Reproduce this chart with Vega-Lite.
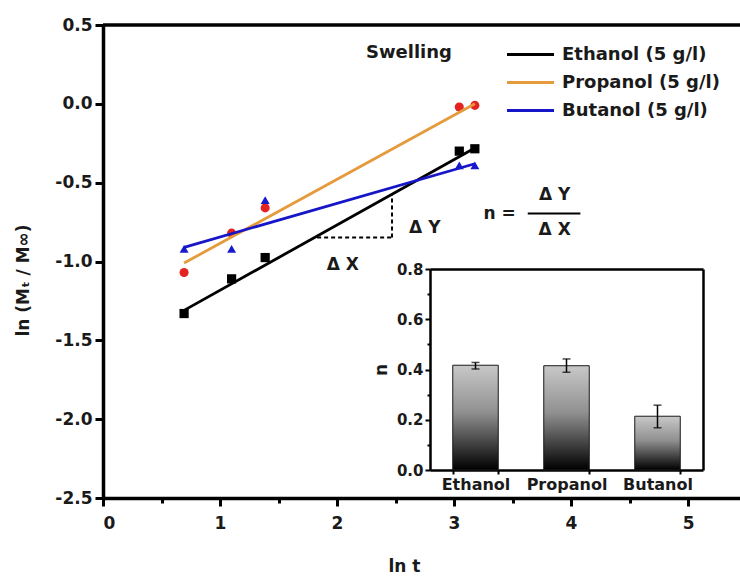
{
  "$schema": "https://vega.github.io/schema/vega-lite/v6.json",
  "width": 637,
  "height": 473,
  "autosize": "none",
  "padding": {"left": 103, "top": 25, "right": 0, "bottom": 78},
  "background": "white",
  "config": {
    "view": {"stroke": null},
    "font": "DejaVu Sans",
    "text": {"font": "DejaVu Sans"}
  },
  "datasets": {
    "points": [
      {"series": "Ethanol", "lnt": 0.693, "value": -1.33},
      {"series": "Ethanol", "lnt": 1.099, "value": -1.11},
      {"series": "Ethanol", "lnt": 1.386, "value": -0.975},
      {"series": "Ethanol", "lnt": 3.045, "value": -0.30},
      {"series": "Ethanol", "lnt": 3.178, "value": -0.285},
      {"series": "Propanol", "lnt": 0.693, "value": -1.07},
      {"series": "Propanol", "lnt": 1.099, "value": -0.82},
      {"series": "Propanol", "lnt": 1.386, "value": -0.66},
      {"series": "Propanol", "lnt": 3.045, "value": -0.02},
      {"series": "Propanol", "lnt": 3.178, "value": -0.01},
      {"series": "Butanol", "lnt": 0.693, "value": -0.92},
      {"series": "Butanol", "lnt": 1.099, "value": -0.92},
      {"series": "Butanol", "lnt": 1.386, "value": -0.61},
      {"series": "Butanol", "lnt": 3.045, "value": -0.39},
      {"series": "Butanol", "lnt": 3.178, "value": -0.39}
    ],
    "fits": [
      {"series": "Ethanol (5 g/l)", "lnt": 0.693, "value": -1.31},
      {"series": "Ethanol (5 g/l)", "lnt": 3.178, "value": -0.28},
      {"series": "Propanol (5 g/l)", "lnt": 0.693, "value": -1.01},
      {"series": "Propanol (5 g/l)", "lnt": 3.178, "value": 0.0},
      {"series": "Butanol (5 g/l)", "lnt": 0.693, "value": -0.91},
      {"series": "Butanol (5 g/l)", "lnt": 3.178, "value": -0.38}
    ],
    "triangle": [
      {"x1": 1.83, "x2": 2.47, "y1": -0.848, "y2": -0.848},
      {"x1": 2.47, "x2": 2.47, "y1": -0.848, "y2": -0.573}
    ],
    "bars": [
      {"alcohol": "Ethanol", "n": 0.417, "lo": 0.402, "hi": 0.428},
      {"alcohol": "Propanol", "n": 0.415, "lo": 0.389, "hi": 0.442},
      {"alcohol": "Butanol", "n": 0.214, "lo": 0.168, "hi": 0.258}
    ]
  },
  "layer": [
    {
      "layer": [
        {
          "data": {"values": [{}]},
          "mark": {"type": "rule", "color": "black", "strokeWidth": 3.5},
          "encoding": {
            "y": {"datum": 0.5, "type": "quantitative", "scale": {"domain": [-2.5, 0.5], "nice": false, "zero": false}}
          }
        },
        {
          "data": {"name": "points"},
          "mark": {"type": "point", "filled": true, "opacity": 1, "strokeWidth": 0},
          "encoding": {
            "x": {
              "field": "lnt", "type": "quantitative",
              "scale": {"domain": [0, 5.444], "nice": false, "zero": false},
              "axis": {
                "orient": "bottom",
                "values": [0, 0.5, 1, 1.5, 2, 2.5, 3, 3.5, 4, 4.5, 5],
                "labelExpr": "datum.value % 1 === 0 ? format(datum.value, 'd') : ''",
                "domainColor": "black", "domainWidth": 3.5,
                "tickColor": "black", "tickWidth": 3,
                "tickSize": {"condition": {"test": "datum.value % 1 === 0", "value": 8}, "value": 5},
                "labelFontSize": 17, "labelFontWeight": "bold", "labelColor": "#1a1a1a", "labelPadding": 9,
                "title": "ln t", "titleFontSize": 17, "titleFontWeight": "bold", "titleColor": "#1a1a1a",
                "titlePadding": 27, "titleX": 301,
                "grid": false
              }
            },
            "y": {
              "field": "value", "type": "quantitative",
              "scale": {"domain": [-2.5, 0.5], "nice": false, "zero": false},
              "axis": {
                "orient": "left",
                "values": [-2.5, -2.25, -2, -1.75, -1.5, -1.25, -1, -0.75, -0.5, -0.25, 0, 0.25, 0.5],
                "labelExpr": "abs(datum.value * 2 - round(datum.value * 2)) < 0.001 ? replace(format(datum.value, '.1f'), '\u2212', '-') : ''",
                "domainColor": "black", "domainWidth": 3.5,
                "tickColor": "black", "tickWidth": 3,
                "tickSize": {"condition": {"test": "abs(datum.value * 2 - round(datum.value * 2)) < 0.001", "value": 8}, "value": 5},
                "labelFontSize": 17, "labelFontWeight": "bold", "labelColor": "#1a1a1a", "labelPadding": 3,
                "title": "ln (Mₜ / M∞)", "titleFontSize": 17, "titleFontWeight": "bold", "titleColor": "#1a1a1a",
                "titlePadding": 22, "titleY": 255,
                "grid": false
              }
            },
            "shape": {
              "field": "series", "type": "nominal",
              "scale": {"domain": ["Ethanol", "Propanol", "Butanol"], "range": ["square", "circle", "triangle-up"]},
              "legend": null
            },
            "size": {
              "field": "series", "type": "nominal",
              "scale": {"domain": ["Ethanol", "Propanol", "Butanol"], "range": [85, 80, 170]},
              "legend": null
            },
            "fill": {
              "field": "series", "type": "nominal",
              "scale": {"domain": ["Ethanol", "Propanol", "Butanol"], "range": ["#000000", "#e32222", "#1818cc"]},
              "legend": null
            }
          }
        },
        {
          "data": {"name": "fits"},
          "mark": {"type": "line", "strokeWidth": 2.8},
          "encoding": {
            "x": {"field": "lnt", "type": "quantitative"},
            "y": {"field": "value", "type": "quantitative"},
            "color": {
              "field": "series", "type": "nominal",
              "scale": {"domain": ["Ethanol (5 g/l)", "Propanol (5 g/l)", "Butanol (5 g/l)"], "range": ["#000000", "#e59a3c", "#1616c8"]},
              "legend": {
                "orient": "none", "legendX": 414, "legendY": 16,
                "title": null, "symbolType": "M-2,0H2", "symbolSize": 552, "symbolStrokeWidth": 3,
                "labelFontSize": 18, "labelFontWeight": "bold", "labelColor": "#1a1a1a",
                "labelOffset": 18, "rowPadding": 5, "padding": 0
              }
            }
          }
        },
        {
          "data": {"name": "triangle"},
          "mark": {"type": "rule", "color": "black", "strokeWidth": 2, "strokeDash": [4, 3]},
          "encoding": {
            "x": {"field": "x1", "type": "quantitative"},
            "x2": {"field": "x2"},
            "y": {"field": "y1", "type": "quantitative"},
            "y2": {"field": "y2"}
          }
        },
        {
          "data": {"values": [{}]},
          "mark": {"type": "rule", "color": "black", "strokeWidth": 2},
          "encoding": {
            "x": {"datum": 3.63, "type": "quantitative"},
            "x2": {"datum": 4.08},
            "y": {"datum": -0.696, "type": "quantitative"}
          }
        },
        {
          "data": {"values": [{}]},
          "mark": {"type": "text", "text": "Swelling", "fontSize": 18, "fontWeight": "bold", "color": "#1a1a1a"},
          "encoding": {"x": {"datum": 2.615, "type": "quantitative"}, "y": {"datum": 0.323, "type": "quantitative"}}
        },
        {
          "data": {"values": [{}]},
          "mark": {"type": "text", "text": "Δ X", "fontSize": 17, "fontWeight": "bold", "color": "#1a1a1a"},
          "encoding": {"x": {"datum": 2.05, "type": "quantitative"}, "y": {"datum": -1.025, "type": "quantitative"}}
        },
        {
          "data": {"values": [{}]},
          "mark": {"type": "text", "text": "Δ Y", "fontSize": 17, "fontWeight": "bold", "color": "#1a1a1a"},
          "encoding": {"x": {"datum": 2.75, "type": "quantitative"}, "y": {"datum": -0.785, "type": "quantitative"}}
        },
        {
          "data": {"values": [{}]},
          "mark": {"type": "text", "text": "n =", "fontSize": 17, "fontWeight": "bold", "color": "#1a1a1a"},
          "encoding": {"x": {"datum": 3.39, "type": "quantitative"}, "y": {"datum": -0.696, "type": "quantitative"}}
        },
        {
          "data": {"values": [{}]},
          "mark": {"type": "text", "text": "Δ Y", "fontSize": 17, "fontWeight": "bold", "color": "#1a1a1a"},
          "encoding": {"x": {"datum": 3.86, "type": "quantitative"}, "y": {"datum": -0.58, "type": "quantitative"}}
        },
        {
          "data": {"values": [{}]},
          "mark": {"type": "text", "text": "Δ X", "fontSize": 17, "fontWeight": "bold", "color": "#1a1a1a"},
          "encoding": {"x": {"datum": 3.86, "type": "quantitative"}, "y": {"datum": -0.80, "type": "quantitative"}}
        }
      ]
    },
    {
      "data": {"name": "bars"},
      "layer": [
        {
          "mark": {
            "type": "bar",
            "stroke": "#1a1a1a", "strokeWidth": 1,
            "color": {
              "gradient": "linear", "x1": 0, "y1": 0, "x2": 0, "y2": 1,
              "stops": [
                {"offset": 0, "color": "#c8c8c8"},
                {"offset": 0.45, "color": "#909090"},
                {"offset": 1, "color": "#000000"}
              ]
            }
          },
          "encoding": {
            "x": {
              "field": "alcohol", "type": "nominal", "sort": null,
              "scale": {"range": [327, 600], "paddingInner": 0.5, "paddingOuter": 0.25},
              "axis": {
                "orient": "bottom", "offset": -28, "title": null,
                "domainColor": "black", "domainWidth": 2.5,
                "tickColor": "black", "tickWidth": 2, "tickSize": 4, "tickBand": "extent",
                "labelAngle": 0, "labelFontSize": 16, "labelFontWeight": "bold", "labelColor": "#1a1a1a", "labelPadding": 2
              }
            },
            "y": {
              "field": "n", "type": "quantitative",
              "scale": {"domain": [0, 0.8], "range": [445, 244], "nice": false},
              "axis": {
                "orient": "left", "offset": -327,
                "values": [0, 0.1, 0.2, 0.3, 0.4, 0.5, 0.6, 0.7, 0.8],
                "labelExpr": "round(datum.value * 10) % 2 === 0 ? format(datum.value, '.1f') : ''",
                "domainColor": "black", "domainWidth": 2.5,
                "tickColor": "black", "tickWidth": 2,
                "tickSize": {"condition": {"test": "round(datum.value * 10) % 2 === 0", "value": 5}, "value": 3},
                "labelFontSize": 15, "labelFontWeight": "bold", "labelColor": "#1a1a1a", "labelPadding": 2,
                "title": "n", "titleFontSize": 17, "titleFontWeight": "bold", "titleColor": "#1a1a1a", "titlePadding": 6,
                "grid": false
              }
            }
          }
        },
        {
          "mark": {"type": "rule", "color": "black", "strokeWidth": 1.5},
          "encoding": {
            "x": {
              "field": "alcohol", "type": "nominal", "sort": null,
              "axis": {"orient": "top", "offset": -244, "title": null, "labels": false, "ticks": false, "domainColor": "black", "domainWidth": 2.5}
            },
            "y": {
              "field": "lo", "type": "quantitative",
              "axis": {"orient": "right", "offset": -37, "title": null, "labels": false, "ticks": false, "grid": false, "domainColor": "black", "domainWidth": 2.5}
            },
            "y2": {"field": "hi"}
          }
        },
        {
          "mark": {"type": "tick", "color": "black", "size": 8, "thickness": 1.5},
          "encoding": {
            "x": {"field": "alcohol", "type": "nominal", "sort": null, "axis": null},
            "y": {"field": "lo", "type": "quantitative", "axis": null}
          }
        },
        {
          "mark": {"type": "tick", "color": "black", "size": 8, "thickness": 1.5},
          "encoding": {
            "x": {"field": "alcohol", "type": "nominal", "sort": null, "axis": null},
            "y": {"field": "hi", "type": "quantitative", "axis": null}
          }
        }
      ]
    }
  ],
  "resolve": {"scale": {"x": "independent", "y": "independent"}}
}
